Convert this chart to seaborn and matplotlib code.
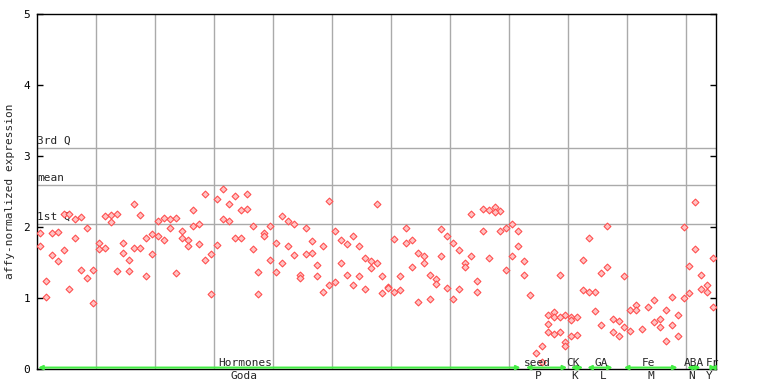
import numpy as np
import pandas as pd
import seaborn as sns
import matplotlib
matplotlib.use("Agg")
import matplotlib.pyplot as plt

# expression values per sample (two replicates, a few samples have a third)
rep1 = [1.91, 1.24, 1.91, 1.93, 2.19, 2.19, 2.11, 2.14, 1.98, 1.39,
        1.77, 2.15, 2.17, 2.18, 1.78, 1.54, 2.33, 2.17, 1.85, 1.90,
        2.08, 2.12, 2.11, 2.12, 1.94, 1.81, 2.24, 2.04, 2.46, 1.62,
        2.40, 2.53, 2.32, 2.43, 2.24, 2.47, 2.01, 1.36, 1.91, 2.01,
        1.78, 2.16, 2.08, 2.04, 1.33, 1.98, 1.80, 1.46, 1.73, 2.36,
        1.94, 1.81, 1.76, 1.88, 1.73, 1.56, 1.52, 2.33, 1.31, 1.16,
        1.83, 1.31, 1.98, 1.81, 1.63, 1.59, 1.32, 1.27, 1.97, 1.87,
        1.77, 1.67, 1.49, 2.19, 1.24, 2.25, 2.24, 2.28, 2.22, 1.98,
        2.04, 1.94, 1.52, 1.04, 0.23, 0.32, 0.76, 0.80, 1.33, 0.76,
        0.73, 0.73, 1.53, 1.85, 1.09, 1.35, 2.02, 0.70, 0.67, 1.31,
        0.83, 0.90, 0.56, 0.87, 0.97, 0.71, 0.83, 1.01, 0.76, 2.00,
        1.45, 2.35, 1.33, 1.19, 1.57]
rep2 = [1.73, 1.01, 1.60, 1.52, 1.67, 1.13, 1.84, 1.40, 1.28, 0.93,
        1.69, 1.71, 2.07, 1.38, 1.63, 1.38, 1.70, 1.70, 1.31, 1.62,
        1.87, 1.81, 1.98, 1.35, 1.85, 1.73, 2.01, 1.76, 1.53, 1.05,
        1.74, 2.11, 2.08, 1.84, 1.84, 2.25, 1.69, 1.05, 1.88, 1.53,
        1.36, 1.49, 1.73, 1.60, 1.28, 1.62, 1.64, 1.31, 1.08, 1.18,
        1.22, 1.49, 1.33, 1.19, 1.31, 1.12, 1.42, 1.49, 1.07, 1.14,
        1.08, 1.11, 1.78, 1.43, 0.95, 1.50, 0.98, 1.20, 1.59, 1.14,
        0.98, 1.12, 1.43, 1.59, 1.08, 1.94, 1.56, 2.21, 1.94, 1.39,
        1.59, 1.73, 1.33, np.nan, np.nan, 0.10, 0.64, 0.73, 0.73, 0.38,
        0.69, 0.48, 1.11, 1.08, 0.81, 0.62, 1.43, 0.52, 0.46, 0.59,
        0.53, 0.83, np.nan, np.nan, 0.66, 0.59, 0.39, 0.62, 0.47, 1.00,
        1.07, 1.69, 1.12, 1.08, 0.88]
rep3_samples = [86, 87, 88, 89, 90]
rep3 = [0.52, 0.50, 0.52, 0.32, 0.47]

# summary lines
q_names = ["3rd Q", "mean", "1st Q"]
q_values = [3.11, 2.59, 2.04]

# experiment groups along the x axis
group_top = ["Hormones", "seed", "CK", "GA", "Fe", "ABA", "Fr"]
group_bottom = ["Goda", "P", "K", "L", "M", "N", "Y"]
group_start = [-0.3, 82.3, 89.9, 92.7, 98.9, 109.6, 113.5]
group_end = [81.4, 89.3, 92.0, 97.0, 108.0, 111.9, 114.5]
top_label_x = [34.7, 84.2, 90.2, 95.1, 103.1, 110.7, 113.9]
bottom_label_x = [34.6, 84.4, 90.5, 95.4, 103.4, 110.3, 113.4]

n = len(rep1)
samples = np.arange(n)
df = pd.DataFrame({
    "sample": np.concatenate([samples, samples, rep3_samples]),
    "expression": np.concatenate([rep1, rep2, rep3]),
}).dropna()

sns.set_style("white")
plt.rcParams["font.family"] = ["DejaVu Sans Mono"]
plt.rcParams["font.size"] = 8

fig = plt.figure(figsize=(7.68, 3.84), dpi=100)
ax = fig.add_axes([37 / 768, 1 - 369 / 384, 679 / 768, 355 / 384])

for k in range(11):
    ax.axvline(9.5 + 10 * k, color="#aaaaaa", lw=1, zorder=1)
for name, val in zip(q_names, q_values):
    ax.axhline(val, color="#aaaaaa", lw=1, zorder=1)
    ax.text(-0.5, val + 0.03, name, ha="left", va="bottom", fontsize=8, zorder=3)

sns.scatterplot(data=df, x="sample", y="expression", ax=ax, marker="D", s=12,
                color="#ffc4c4", edgecolor="#ff5050", linewidth=0.8, zorder=4,
                legend=False)

ax.set_xlim(-0.5, n - 0.5)
ax.set_ylim(0, 5)
ax.set_xticks([])
ax.set_yticks(range(6))
ax.tick_params(axis="y", direction="in", length=4.5, width=1, left=True,
               right=True, labelsize=8, pad=5, colors="black")
ax.set_xlabel("")
ax.set_ylabel("affy-normalized expression", fontsize=8, labelpad=6)
for sp in ax.spines.values():
    sp.set_color("black")
    sp.set_linewidth(1)

trans = ax.get_xaxis_transform()
for x0, x1 in zip(group_start, group_end):
    ax.annotate("", xy=(x1, 0.004), xytext=(x0, 0.004), xycoords=trans,
                textcoords=trans,
                arrowprops=dict(arrowstyle="<|-|>", color="#44ee44", lw=1.5,
                                mutation_scale=6, shrinkA=0, shrinkB=0),
                annotation_clip=False, zorder=5)
for lab, x in zip(group_top, top_label_x):
    ax.text(x, 0.017, lab, transform=trans, ha="center", va="center",
            fontsize=8, zorder=6, clip_on=False)
for lab, x in zip(group_bottom, bottom_label_x):
    ax.text(x, -0.021, lab, transform=trans, ha="center", va="center",
            fontsize=8, clip_on=False)

fig.savefig("out.png", dpi=100)
